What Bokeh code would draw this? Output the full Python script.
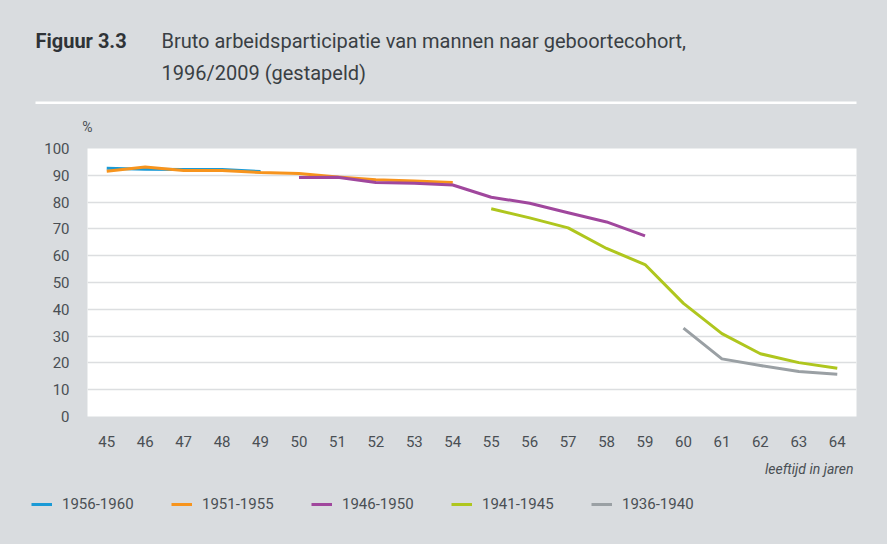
from bokeh.plotting import figure
from bokeh.models import Range1d, FixedTicker, Label, Legend, LegendItem, BoxAnnotation
from bokeh.layouts import column
from bokeh.embed import file_html
from bokeh.resources import INLINE

# ---- data ----
series_names = ["1956-1960", "1951-1955", "1946-1950", "1941-1945", "1936-1940"]
ages_1956_1960 = [45, 46, 47, 48, 49]
vals_1956_1960 = [92.6, 92.3, 92.2, 92.2, 91.4]
ages_1951_1955 = [45, 46, 47, 48, 49, 50, 51, 52, 53, 54]
vals_1951_1955 = [91.5, 93.1, 91.8, 91.8, 91.0, 90.7, 89.4, 88.3, 87.9, 87.3]
ages_1946_1950 = [50, 51, 52, 53, 54, 55, 56, 57, 58, 59]
vals_1946_1950 = [89.2, 89.3, 87.3, 87.0, 86.4, 81.8, 79.6, 76.0, 72.6, 67.4]
ages_1941_1945 = [55, 56, 57, 58, 59, 60, 61, 62, 63, 64]
vals_1941_1945 = [77.5, 74.1, 70.4, 62.7, 56.7, 42.2, 30.9, 23.4, 20.1, 18.0]
ages_1936_1940 = [60, 61, 62, 63, 64]
vals_1936_1940 = [33.0, 21.5, 19.0, 16.8, 15.8]
x_ticks = list(range(45, 65))
y_ticks = list(range(0, 101, 10))
fig_label = "Figuur 3.3"
title_lines = ["Bruto arbeidsparticipatie van mannen naar geboortecohort,",
               "1996/2009 (gestapeld)"]
y_unit = "%"
x_title = "leeftijd in jaren"

colors = ["#1a9ad6", "#f7941d", "#a0479d", "#afc61e", "#9aa0a4"]
BG = "#d9dcdf"
TXT = "#4a4f54"
FONT = "Roboto"
W = 887
H_HEAD, H_MAIN, H_FOOT = 136, 319, 89


def blank_fig(height, y0, y1):
    f = figure(width=W, height=height, output_backend="svg", toolbar_location=None,
               x_range=Range1d(0, W), y_range=Range1d(y1, y0),
               x_axis_type=None, y_axis_type=None,
               min_border=0, min_border_left=0, min_border_right=0,
               min_border_top=0, min_border_bottom=0)
    f.frame_align = False
    f.grid.visible = False
    f.background_fill_color = BG
    f.border_fill_color = BG
    f.outline_line_color = None
    return f


# ---- header ----
head = blank_fig(H_HEAD, 0, H_HEAD)
head.add_layout(Label(x=35, y=40, text=fig_label, text_font=FONT,
                      text_font_style="bold", text_font_size="20px", text_color="#2f3337",
                      text_baseline="middle", text_align="left"))
for i, line in enumerate(title_lines):
    head.add_layout(Label(x=161, y=40 + 32 * i, text=line, text_font=FONT,
                          text_font_size="20px", text_color="#3a3f44",
                          text_baseline="middle", text_align="left"))
head.add_layout(BoxAnnotation(left=35, right=856, top=101, bottom=103.5,
                              fill_color="white", fill_alpha=1, line_color=None))
head.add_layout(Label(x=87, y=126, text=y_unit, text_font=FONT, text_font_size="14px",
                      text_color=TXT, text_align="center", text_baseline="middle"))

# ---- main chart ----
p = figure(width=W, height=H_MAIN, output_backend="svg", toolbar_location=None,
           x_range=Range1d(44.5, 64.5), y_range=Range1d(0, 100),
           min_border_left=87, min_border_right=W - 856,
           min_border_top=148 - H_HEAD, min_border_bottom=H_HEAD + H_MAIN - 416)
p.frame_align = False
p.background_fill_color = "white"
p.border_fill_color = BG
p.outline_line_color = None

for ax, ticks in ((p.xaxis[0], x_ticks), (p.yaxis[0], y_ticks)):
    ax.ticker = FixedTicker(ticks=ticks)
    ax.axis_line_color = None
    ax.major_tick_line_color = None
    ax.minor_tick_line_color = None
    ax.major_label_text_font = FONT
    ax.major_label_text_font_size = "15px"
    ax.major_label_text_color = TXT
p.yaxis.major_label_standoff = 12
p.xaxis.major_label_standoff = 13

p.xgrid.visible = False
p.ygrid.ticker = FixedTicker(ticks=y_ticks)
p.ygrid.grid_line_color = "#dcdee0"
p.ygrid.grid_line_width = 1.5

data = [(ages_1956_1960, vals_1956_1960), (ages_1951_1955, vals_1951_1955),
        (ages_1946_1950, vals_1946_1950), (ages_1941_1945, vals_1941_1945),
        (ages_1936_1940, vals_1936_1940)]
for (xs, ys), c in zip(data, colors):
    p.line(xs, ys, line_color=c, line_width=3, line_join="round")

# ---- footer: axis title + legend ----
y_foot0 = H_HEAD + H_MAIN
foot = blank_fig(H_FOOT, y_foot0, y_foot0 + H_FOOT)
foot.add_layout(Label(x=853, y=468, text=x_title, text_font=FONT,
                      text_font_size="14px", text_font_style="italic", text_color=TXT,
                      text_align="right", text_baseline="middle"))
items = []
for n, (xs, ys), c in zip(series_names, data, colors):
    # legend proxy: same series, lies outside this strip's visible range
    r = foot.line(xs, ys, line_color=c, line_width=3)
    items.append(LegendItem(label=n, renderers=[r]))
legend = Legend(items=items, orientation="horizontal", location=(31, 30),
                padding=0, margin=0, spacing=9, glyph_width=21, glyph_height=20,
                label_height=20, label_width=100, label_standoff=10,
                label_text_font=FONT, label_text_font_size="15px", label_text_color=TXT,
                background_fill_alpha=0, border_line_alpha=0)
foot.add_layout(legend)

layout = column(head, p, foot, spacing=0, styles={"background-color": BG})
open("out.html", "w").write(file_html(layout, INLINE))
